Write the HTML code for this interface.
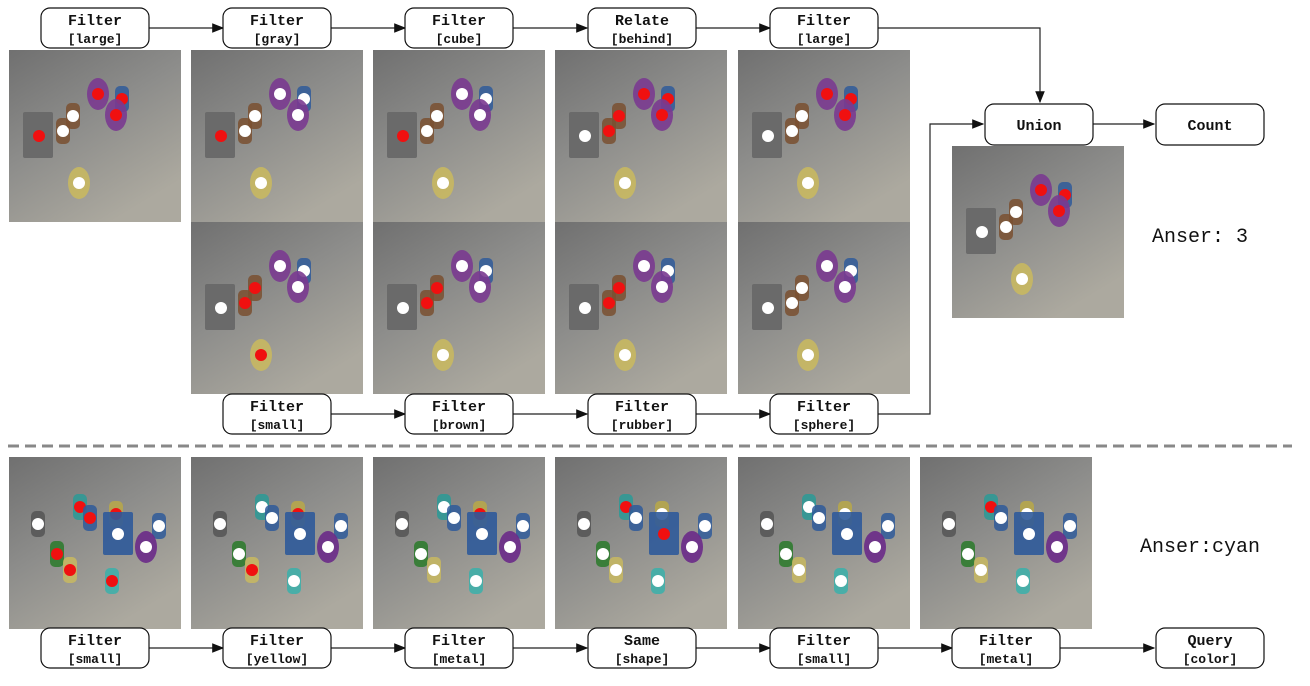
<!DOCTYPE html>
<html><head><meta charset="utf-8"><style>
body{margin:0;background:#fff;width:1310px;height:686px;overflow:hidden}
svg{display:block}
.bt{font-family:"Liberation Mono",monospace;font-weight:bold;font-size:15px;fill:#111}
.bs{font-family:"Liberation Mono",monospace;font-weight:bold;font-size:13px;fill:#111}
.ans{font-family:"Liberation Mono",monospace;font-size:20px;fill:#111}
</style></head><body>
<svg id="fig" width="1310" height="686" xmlns="http://www.w3.org/2000/svg">
<defs>
<linearGradient id="floor" x1="0" y1="0" x2="0.6" y2="1"><stop offset="0" stop-color="#707070"/><stop offset="0.5" stop-color="#8d8d8b"/><stop offset="1" stop-color="#aca99f"/></linearGradient>
<marker id="ah" markerWidth="10" markerHeight="8" refX="9" refY="4" orient="auto"><path d="M0,0 L10,4 L0,8 z" fill="#111"/></marker>
</defs>
<g id="lines"></g>
<g id="imgs"></g>
<g id="boxes"></g>
<line x1="8" y1="446" x2="1292" y2="446" stroke="#888" stroke-width="3" stroke-dasharray="11,6"/>
<text class="ans" x="1152" y="242">Anser: 3</text>
<text class="ans" x="1140" y="552">Anser:cyan</text>
</svg>
<script>
const NS='http://www.w3.org/2000/svg';
function mk(t,a,p){const e=document.createElementNS(NS,t);for(const k in a)e.setAttribute(k,a[k]);p.appendChild(e);return e;}
const lines=document.getElementById('lines'),imgs=document.getElementById('imgs'),boxes=document.getElementById('boxes');
const topMods=[["Filter","[large]",41,8],["Filter","[gray]",223,8],["Filter","[cube]",405,8],["Relate","[behind]",588,8],["Filter","[large]",770,8],
["Filter","[small]",223,394],["Filter","[brown]",405,394],["Filter","[rubber]",588,394],["Filter","[sphere]",770,394],
["Filter","[small]",41,628],["Filter","[yellow]",223,628],["Filter","[metal]",405,628],["Same","[shape]",588,628],["Filter","[small]",770,628],["Filter","[metal]",952,628],["Query","[color]",1156,628]];
topMods.forEach(m=>{
 const g=mk('g',{},boxes);
 
 
 mk('rect',{x:m[2],y:m[3],width:108,height:40,rx:9,fill:'#fff',stroke:'#111','stroke-width':1.2},g);
 const t1=mk('text',{x:m[2]+54,y:m[3]+17,'text-anchor':'middle',class:'bt'},g);t1.textContent=m[0];
 const t2=mk('text',{x:m[2]+54,y:m[3]+35,'text-anchor':'middle',class:'bs'},g);t2.textContent=m[1];
});
[[1156,104,"Count",""],[985,104,"Union",""]].forEach(m=>{
 const g=mk('g',{},boxes);
 
 
 mk('rect',{x:m[0],y:m[1],width:108,height:41,rx:9,fill:'#fff',stroke:'#111','stroke-width':1.2},g);
 const t=mk('text',{x:m[0]+54,y:m[1]+26,'text-anchor':'middle',class:'bt'},g);t.textContent=m[2];
});
function arrow(d){const p=mk('path',{d:d,fill:'none',stroke:'#222','stroke-width':1.2,'marker-end':'url(#ah)'},lines);}
[149,331,513,696].forEach(x=>arrow(`M${x},28 H${x+74}`));
arrow('M878,28 H1040 V102');
[331,513,696].forEach(x=>arrow(`M${x},414 H${x+74}`));
arrow('M878,414 H930 V124 H983');
arrow('M1093,124 H1154');
[149,331,513,696,878].forEach(x=>arrow(`M${x},648 H${x+74}`));
arrow('M1060,648 H1154');
const sceneA=[['cube',30,86],['cyl','#7a5030',54,81],['cyl','#7a5030',64,66],['egg','#7a3a90',89,44],['cyl','#2f5a9a',113,49],['egg','#7a3a90',107,65],['egg','#c8b860',70,133]];
const sceneB=[['cyl','#555',29,67],['cyl','#2a9a96',71,50],['cyl','#2f5a9a',81,61],['cyl','#b8a848',107,57],['cube2',109,77],['cyl','#2f5a9a',150,69],['egg','#6a2a88',137,90],['cyl','#2a7a2a',48,97],['cyl','#c8b860',61,113],['cyl','#3ab0aa',103,124]];
const flagsA=["rwwrrrw","rwwwwww","rwwwwww","wrrrrrw","wwwrrrw","wrrwwwr","wrrwwww","wrrwwww","wwwwwww","wwwrrrw"];
const posA=[[9,50],[191,50],[373,50],[555,50],[738,50],[191,222],[373,222],[555,222],[738,222],[952,146]];
const flagsB=["wrrrwwwrrr","wwwrwwwwrw","wwwrwwwwww","wrwwrwwwww","wwwwwwwwww","wrwwwwwwww"];
const posB=[[9,457],[191,457],[373,457],[555,457],[738,457],[920,457]];
function scene(x,y,objs,flags,name){
 const g=mk('g',{transform:`translate(${x},${y})`},imgs);
 
 mk('rect',{x:0,y:0,width:172,height:172,fill:'url(#floor)'},g);
 objs.forEach((o,i)=>{
  const [t]=o;let cx,cy;
  if(t==='cube'){cx=o[1];cy=o[2];mk('rect',{x:cx-16,y:cy-24,width:30,height:46,fill:'#6a6a6a',rx:2},g);}
  else if(t==='cube2'){cx=o[1];cy=o[2];mk('rect',{x:cx-15,y:cy-22,width:30,height:43,fill:'#2f5a9a',rx:2,opacity:0.9},g);}
  else if(t==='cyl'){cx=o[2];cy=o[3];mk('rect',{x:cx-7,y:cy-13,width:14,height:26,rx:5,fill:o[1],opacity:0.85},g);}
  else {cx=o[2];cy=o[3];mk('ellipse',{cx:cx,cy:cy,rx:11,ry:16,fill:o[1],opacity:0.9},g);}
  const d=mk('circle',{cx:cx,cy:cy,r:6,fill:flags[i]==='r'?'#f01010':'#fff'},g);
  
 });
}
posA.forEach((p,i)=>scene(p[0],p[1],sceneA,flagsA[i],'scene-top-'+i));
posB.forEach((p,i)=>scene(p[0],p[1],sceneB,flagsB[i],'scene-bottom-'+i));
</script>
</body></html>
